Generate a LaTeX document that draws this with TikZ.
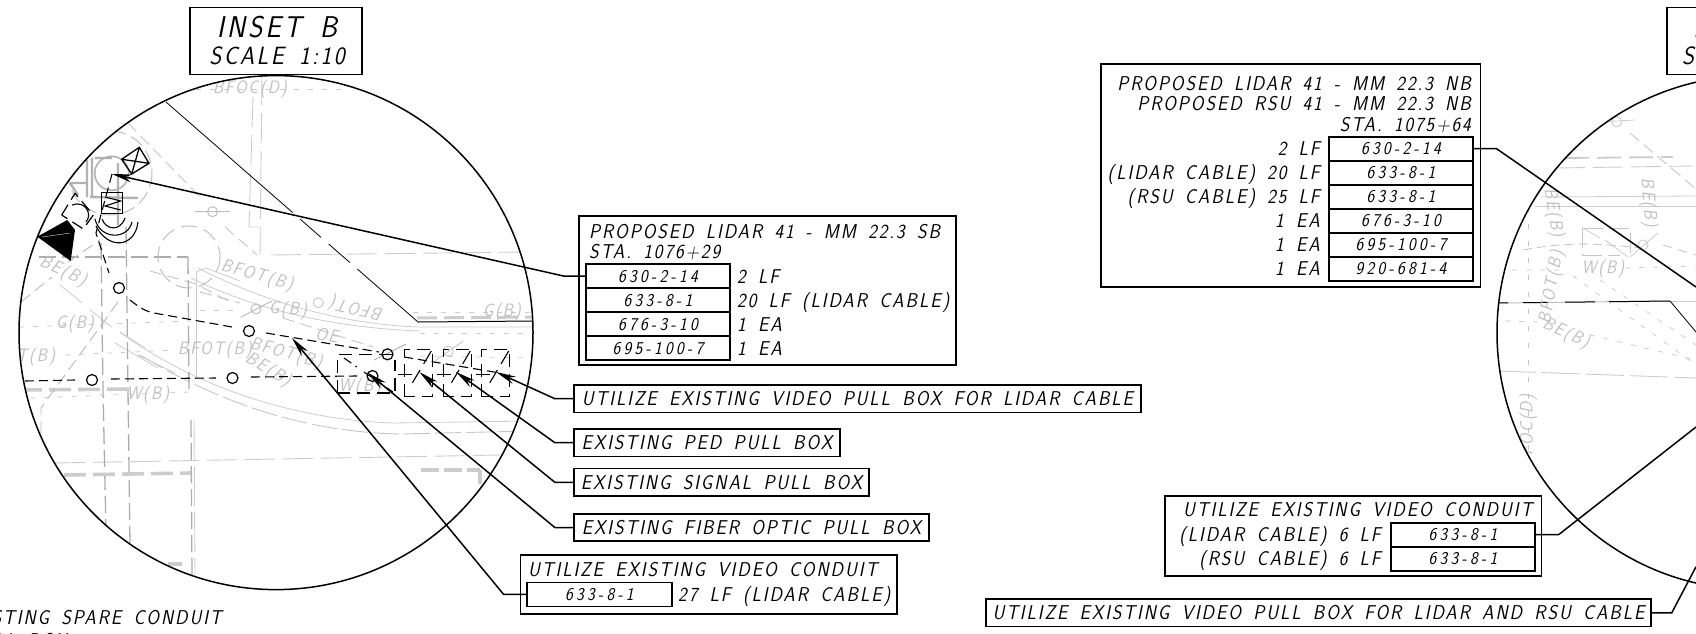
\documentclass[tikz,border=0pt]{standalone}
\usepackage{fontspec}
\usetikzlibrary{arrows.meta}
\newfontfamily\isofont[FakeSlant=0.2,FakeStretch=0.92,LetterSpace=9.5,WordSpace=1.6]{Latin Modern Sans}
\newfontfamily\isocode[FakeSlant=0.2,FakeStretch=0.92,LetterSpace=18]{Latin Modern Sans}
\tikzset{
  notefont/.style={font=\fontsize{20}{22}\selectfont\isofont,text height=14pt,text depth=0pt},
  codefont/.style={font=\fontsize{18}{20}\selectfont\isocode,text height=12.5pt,text depth=0pt},
  notebox/.style={draw,line width=1.5pt,inner sep=0pt,notefont},
  paybox/.style={draw,line width=1.6pt,inner sep=0pt,minimum width=143.5pt,minimum height=24pt,codefont},
  notetext/.style={inner sep=0pt,notefont},
  leader/.style={line width=1.5pt,-{Stealth[length=20pt,width=8pt]}},
  plainleader/.style={line width=1.5pt},
  roadlabel/.style={inner sep=0pt,text=gray!50,font=\fontsize{18}{20}\selectfont\isofont},
  bgline/.style={gray!40,line width=0.8pt},
  bglong/.style={gray!40,line width=0.9pt,dash pattern=on 30pt off 8pt},
  bgdots/.style={gray!40,line width=0.8pt,dash pattern=on 5pt off 9pt},
  bgdash/.style={gray!45,line width=0.9pt,dash pattern=on 12pt off 6pt},
  bgwide/.style={gray!40,line width=3.6pt,dash pattern=on 22pt off 7pt},
  bgmid/.style={gray!65,line width=1.3pt,dash pattern=on 17pt off 6pt},
  wiredash/.style={black,line width=1.1pt,dash pattern=on 9pt off 5pt},
  boxdash/.style={black,line width=1.1pt,dash pattern=on 13pt off 7pt},
  pullbox/.style={draw,circle,line width=1.2pt,inner sep=0pt,minimum size=11pt},
}
\begin{document}
\begin{tikzpicture}[x=1pt,y=-1pt]
  \useasboundingbox (0,0) rectangle (1696,633);
  \clip (0,0) rectangle (1696,633);

  % inset B plan, everything faint stays inside the circle
  \begin{scope}
    \clip (276,332.6) circle (257);
    % road edges and offsets
    \draw[bgline] (198,268) .. controls (270,305) and (350,325) .. (420,327) -- (533,327);
    \draw[bgline] (191,278) .. controls (260,312) and (340,328) .. (420,331);
    \draw[bgline] (196,272) -- (206,268) -- (240,281);
    \draw[bgline] (196,272) -- (196,377);
    \draw[bgline] (121,333) .. controls (200,390) and (300,420) .. (393,423) -- (530,421);
    \draw[bgdash,dash pattern=on 26pt off 5pt] (140,355) .. controls (215,400) and (300,432) .. (400,434) -- (530,431);
    \draw[bgline] (60,285) -- (82,303) (90,310) -- (112,327) (120,332) -- (145,348) (115,343) -- (158,368) (138,355) -- (175,373);
    % long faint runs
    \draw[bglong] (55,463) -- (500,455);
    \draw[bglong] (271,255) -- (525,252);
    \draw[bglong] (262,75) -- (260,255);
    \draw[bglong] (253,97) -- (249,227) -- (258,227);
    \draw[bgdash] (128,123) -- (200,197) (225,227) -- (257,255);
    \draw[bgmid] (39,257) -- (188,257);
    \draw[bgmid] (188,257) -- (189,392) (191,420) -- (192,575);
    \draw[bglong,dash pattern=on 40pt off 6pt] (194,420) -- (195,575);
    \draw[bgmid] (101,243) -- (103,390) -- (106,530);
    \draw[bgmid] (126,227) -- (128,390) -- (130,545);
    \draw[bgwide] (20,390) -- (134,389);
    \draw[bgwide] (64,475) -- (191,473);
    \draw[bgwide] (168,564) -- (182,564);
    \draw[bgwide,dash pattern=on 18pt off 5pt] (421,470) -- (480,470);
    \draw[bgwide] (480,470) -- (480,484);
    \draw[gray!40,line width=3pt,dash pattern=on 20pt off 7pt] (417,318) -- (533,317);
    % service lines
    \draw[bgdots] (196,89) -- (348,89);
    \draw[bgdots] (413,312) -- (532,312);
    \draw[bgdots] (420,333) -- (533,333);
    \draw[bgdots] (420,356) -- (533,358);
    \draw[bgdots] (19,327) -- (190,321);
    \draw[bgdots] (65,355) -- (175,350);
    \draw[bgdots] (30,398) -- (190,392);
    \draw[bgdots] (200,310) -- (240,310);
    \draw[bgdash] (200,292) -- (240,303) (283,318) -- (373,347);
    \draw[bgdash] (150,271) -- (196,284) -- (232,303);
    \draw[bgdash,gray!55] (118,302) -- (41,408) -- (41,445);
    \draw[bgdash,gray!55] (21,302) -- (52,277) (68,262) -- (100,240);
    % existing faint pull boxes
    \draw[gray!50,line width=1pt] (212.5,211.7) circle (5) (194.6,211.7) -- (230.4,211.7);
    \draw[gray!50,line width=1pt] (256,309) circle (5) (240.7,317.3) -- (271.7,301);
    \draw[gray!40,line width=1pt] (318.3,302.7) circle (5);
    \draw[gray!60,line width=1pt] (374,360) -- (405.7,344.3);
    \draw[gray!40,line width=1pt] (448.3,351) circle (5) (435,360.7) -- (463.3,341);
    % pole foundation and guard
    \draw[gray!50,line width=1pt,dash pattern=on 16pt off 7pt] (189,257) circle (31);
    \draw[gray!50,line width=1pt,dash pattern=on 14pt off 6pt] (110,173) circle (42);
    \draw[gray!60,line width=2.4pt] (87,160) -- (87,197) (92,158) -- (92,197) (90,197) -- (138,198) (95,158) -- (112,158) (70,183) -- (87,183) (70,183) -- (78,195) (118,163) -- (118,225);
    \draw[gray!60,line width=1.6pt] (111.7,173.3) circle (17);
    % road labels
    \foreach \lbl/\px/\py/\rot [count=\n] in {BFOC(D)/250/89/0, BE(B)/63/272/-25, BFOT(B)/257/276/-15,
        BFOT(/357/308/167, G(B)/288/310/-3, G(B)/502/312/0, G(B)/75/324/0, OE/327/335/-10,
        BFOT(B)/215/350/0, BFOT(B)/286/354/-15, BE(B)/268/370/-30, T(B)/36/357/0,
        W(B)/148/395/0, W(B)/360/387/0} {
      \node[roadlabel,rotate=\rot] (bname\n) at (\px,\py) {\lbl};
    }
    % proposed wiring, black
    \draw[wiredash] (112,174) -- (96,233) -- (109,273);
    \draw[wiredash] (130,300) .. controls (140,308) and (145,311) .. (154,313) -- (232,327);
    \draw[wiredash] (266,333) -- (379,352);
    \draw[wiredash] (404,357) -- (500,373);
    \draw[wiredash] (25,381) -- (75,380);
    \draw[wiredash] (111,379) -- (216,378);
    \draw[wiredash] (251,377) -- (357,376);
    \node[pullbox] (pbone) at (119,288) {};
    \node[pullbox] (pbtwo) at (249,331) {};
    \node[pullbox] (pbthree) at (92,380) {};
    \node[pullbox] (pbfour) at (232.5,378) {};
    \node[pullbox] (pbfive) at (372.5,376) {};
    \node[pullbox] (pbsix) at (387.5,354.3) {};
    % dashed vault outlines, one per box
    \draw[boxdash] (337.3,393) -- (337.3,354.3) -- (395,354.3);
    \draw[boxdash] (337.3,393) -- (395,393) -- (395,360);
    \draw[wiredash] (344,358) -- (357,367) (364,372) -- (393,392);
    \foreach \bx in {404.3,443.3,481.7} {
      \draw[boxdash] (\bx,396.7) -- (\bx,349.3) -- (\bx+28,349.3) -- (\bx+28,396.7) -- cycle;
      \draw[wiredash,dash pattern=on 15pt off 7pt] (\bx+27,351) -- (\bx+8,383);
      \draw[black,line width=1pt] (\bx-6,374) -- (\bx+8,374);
    }
    % the guy line and edge of pavement, thin black
    \draw[black,line width=0.8pt,dash pattern=on 168pt off 10pt on 28pt off 10pt on 28pt off 10pt on 200pt off 0pt] (166,102) -- (418,322);
    \draw[black,line width=1pt] (418,322) -- (533,321);
    % equipment symbols
    \fill[black] (37.3,236.7) -- (67.3,220) -- (75,230) -- (70.7,261) -- cycle;
    \draw[gray!50,line width=0.5pt] (42,237) -- (70,233);
    \draw[black,line width=1.3pt] (121.7,159.3) -- (139.3,147.3) -- (149,163.3) -- (131.7,174) -- cycle
      (121.7,159.3) -- (149,163.3) (139.3,147.3) -- (131.7,174);
    \draw[black,line width=1.1pt] (101.7,192.7) rectangle (122.3,213.3);
    \draw[black,line width=1.1pt] (105,197) -- (120.7,201) -- (105,206) -- (120.7,210);
    \draw[black,line width=1.2pt,dash pattern=on 12pt off 6pt] (61.7,215) -- (75,193.3) -- (93.3,215) -- (83.3,229) -- cycle;
    \draw[black,line width=1.1pt] (72,205) .. controls (85,200) and (93,214) .. (86,222);
    \draw[black,line width=1.1pt] (102,219) .. controls (106,230) and (120,232) .. (125,218);
    \draw[black,line width=1.1pt] (95,219) .. controls (100,240) and (128,240) .. (132,222);
    \draw[black,line width=1.1pt] (96,226) .. controls (108,250) and (135,248) .. (138,222);
  \end{scope}

  % second plan, only its left edge is in the picture
  \begin{scope}
    \clip (1754,332.6) circle (257);
    \draw[gray!40,line width=1pt] (1616.7,121.7) circle (5);
    \draw[bgline] (1603,121.7) -- (1635,120);
    \draw[bgdash] (1630,133) -- (1697,190);
    \draw[gray!40,line width=1.8pt,dash pattern=on 24pt off 8pt] (1565,158) -- (1673,157);
    \draw[bglong] (1555,168) -- (1693,166);
    \draw[bgline] (1540,197) -- (1696,196);
    \draw[bgline] (1535,206) -- (1696,206);
    \draw[bglong,dash pattern=on 38pt off 6pt] (1498,371) -- (1696,378);
    \draw[bgdash,dash pattern=on 5pt off 12pt] (1528,190) -- (1528,460);
    \draw[bgdots] (1512,270) -- (1560,270) (1625,268) -- (1696,266);
    \draw[bgdots] (1505,321) -- (1540,322);
    \draw[bgdash,dash pattern=on 9pt off 5pt] (1523,250) .. controls (1560,243) and (1590,242) .. (1640,248);
    \draw[bgline] (1630,257) -- (1658,233);
    \draw[bgdash,dash pattern=on 20pt off 6pt] (1582.7,228) -- (1582.7,255) -- (1620,255);
    \draw[bgdash,dash pattern=on 20pt off 6pt] (1582.7,228) -- (1630,228) -- (1630,255);
    \draw[bgline] (1583,228) -- (1600,238) (1605,240) -- (1628,257);
    \draw[gray!40,line width=1pt] (1643,245) circle (5);
    \draw[bgdash,dash pattern=on 9pt off 7pt] (1663,245) -- (1696,255);
    \draw[bgdots] (1573,276) -- (1696,365);
    \draw[bgdots] (1600,280) -- (1696,345);
    \draw[bgdots] (1590,335) -- (1696,360);
    \draw[gray!50,line width=1pt] (1498,303) -- (1670,301);
    \draw[black,line width=1pt,dash pattern=on 10pt off 15pt on 25pt off 17pt on 30pt off 14pt on 400pt off 0pt] (1498,303) -- (1670,301);
    \draw[bgline] (1670,301) -- (1696,301);
    \draw[black,line width=0.8pt] (1670,301) -- (1696,332);
    \foreach \lbl/\px/\py/\rot [count=\n] in {BE(B)/1648/203/-85, BE(B)/1553/213/-80, BFOT(B)/1552/287/80,
        BE(B)/1566/334/-25, W(B)/1603/269/0, FOC(D)/1528/425/90} {
      \node[roadlabel,rotate=\rot] (cname\n) at (\px,\py) {\lbl};
    }
  \end{scope}

  % circles and titles
  \draw[line width=1.5pt] (276,332.6) circle (257);
  \draw[line width=1.5pt] (1754,332.6) circle (257);
  \node[notebox,fill=white,minimum width=172pt,minimum height=67pt] (insetb) at (276,41) {};
  \node[inner sep=0pt,font=\fontsize{30}{32}\selectfont\isofont] (insetbname) at (277,27) {INSET B};
  \node[inner sep=0pt,font=\fontsize{25}{28}\selectfont\isofont] (insetbscale) at (277,56) {SCALE 1:10};
  \node[notebox,fill=white,minimum width=172pt,minimum height=67pt] (insetc) at (1753,41) {};
  \node[inner sep=0pt,anchor=west,font=\fontsize{30}{32}\selectfont\isofont] (insetcname) at (1693,27) {I};
  \node[inner sep=0pt,anchor=west,font=\fontsize{25}{28}\selectfont\isofont] (insetcscale) at (1682,56) {S};

  % table for the southbound lidar
  \node[notebox,minimum width=377pt,minimum height=148.7pt] (sbpanel) at (767.6,290.4) {};
  \node[notetext,anchor=west] (sbhead) at (589,231) {PROPOSED LIDAR 41 - MM 22.3 SB};
  \node[notetext,anchor=west] (sbsta) at (589,251) {STA. 1076+29};
  \foreach \code/\qty [count=\n] in {630-2-14/2 LF, 633-8-1/{20 LF (LIDAR CABLE)}, 676-3-10/1 EA, 695-100-7/1 EA} {
    \node[paybox] (sbrow\n) at (658,{252+24*\n}) {\code};
    \node[notetext,anchor=west] (sbqty\n) at (737,{252+24*\n}) {\qty};
  }

  % callouts
  \node[notebox,minimum width=567pt,minimum height=27.3pt] (vidbox) at (857.5,398.7) {UTILIZE EXISTING VIDEO PULL BOX FOR LIDAR CABLE};
  \node[notebox,minimum width=266pt,minimum height=27.3pt] (pedbox) at (707,442.7) {EXISTING PED PULL BOX};
  \node[notebox,minimum width=295pt,minimum height=27.3pt] (sigbox) at (721.5,482.3) {EXISTING SIGNAL PULL BOX};
  \node[notebox,minimum width=355pt,minimum height=27.3pt] (fibbox) at (751.5,527.5) {EXISTING FIBER OPTIC PULL BOX};
  \node[notebox,minimum width=376.6pt,minimum height=58.7pt] (condpanel) at (708.7,584.4) {};
  \node[notetext,anchor=west] (condhead) at (528,569) {UTILIZE EXISTING VIDEO CONDUIT};
  \node[paybox,minimum width=144.7pt] (condrow) at (599.4,594.3) {633-8-1};
  \node[notetext,anchor=west] (condqty) at (678,594.3) {27 LF (LIDAR CABLE)};

  % where the leaders land
  \coordinate (tiplidar) at (112,174);
  \coordinate (tipvid) at (496,372);
  \coordinate (tipped) at (456,372);
  \coordinate (tipsig) at (419.3,372);
  \coordinate (tipfib) at (367.7,372.7);
  \coordinate (tipcond) at (292,338);
  \draw[leader] (sbrow1.west) -- ++(-22,0) -- (tiplidar);
  \draw[leader] (vidbox.west) -- ++(-18.4,0) -- (tipvid);
  \draw[leader] (pedbox.west) -- ++(-18.4,0) -- (tipped);
  \draw[leader] (sigbox.west) -- ++(-18.4,0) -- (tipsig);
  \draw[leader] (fibbox.west) -- ++(-18.4,0) -- (tipfib);
  \draw[leader] (condrow.west) -- ++(-22.7,0) -- (tipcond);

  % table for the northbound lidar and rsu
  \node[notebox,minimum width=379.6pt,minimum height=222.7pt] (nbpanel) at (1290.6,175.4) {};
  \node[notetext,anchor=east] (nbhead) at (1471,83.5) {PROPOSED LIDAR 41 - MM 22.3 NB};
  \node[notetext,anchor=east] (nbheadb) at (1471,103.5) {PROPOSED RSU 41 - MM 22.3 NB};
  \node[notetext,anchor=east] (nbsta) at (1471,124) {STA. 1075+64};
  \foreach \code/\qty [count=\n] in {630-2-14/2 LF, 633-8-1/{(LIDAR CABLE) 20 LF}, 633-8-1/{(RSU CABLE) 25 LF},
      676-3-10/1 EA, 695-100-7/1 EA, 920-681-4/1 EA} {
    \node[paybox] (nbrow\n) at (1401,{124.7+24*\n}) {\code};
    \node[notetext,anchor=east] (nbqty\n) at (1320,{124.7+24*\n}) {\qty};
  }
  \coordinate (nbend) at (1696,287);
  \draw[plainleader] (nbrow1.east) -- ++(23,0) -- (nbend);

  % conduit and pull box callouts on the right
  \node[notebox,minimum width=376.6pt,minimum height=79.7pt] (rcondpanel) at (1353.3,535.9) {};
  \node[notetext,anchor=east] (rcondhead) at (1532.5,509.5) {UTILIZE EXISTING VIDEO CONDUIT};
  \foreach \qty [count=\n] in {{(LIDAR CABLE) 6 LF},{(RSU CABLE) 6 LF}} {
    \node[paybox] (rcondrow\n) at (1463,{510.7+24*\n}) {633-8-1};
    \node[notetext,anchor=east] (rcondqty\n) at (1381,{510.7+24*\n}) {\qty};
  }
  \node[notebox,minimum width=665pt,minimum height=27.7pt] (rvidbox) at (1318.5,612.8) {UTILIZE EXISTING VIDEO PULL BOX FOR LIDAR AND RSU CABLE};
  \coordinate (rcondend) at (1696,427);
  \coordinate (rvidend) at (1696,566.7);
  \draw[plainleader] (rcondrow1.east) -- ++(23,0) -- (rcondend);
  \draw[plainleader] (rvidbox.east) -- ++(20,0) -- (rvidend);

  % note cut off by the lower edge of the sheet
  \node[notetext,anchor=east] (sparenote) at (222,617) {STING SPARE CONDUIT};
  \node[notetext,anchor=east] (sparenoteb) at (67,640) {LL BOX};
\end{tikzpicture}
\end{document}
